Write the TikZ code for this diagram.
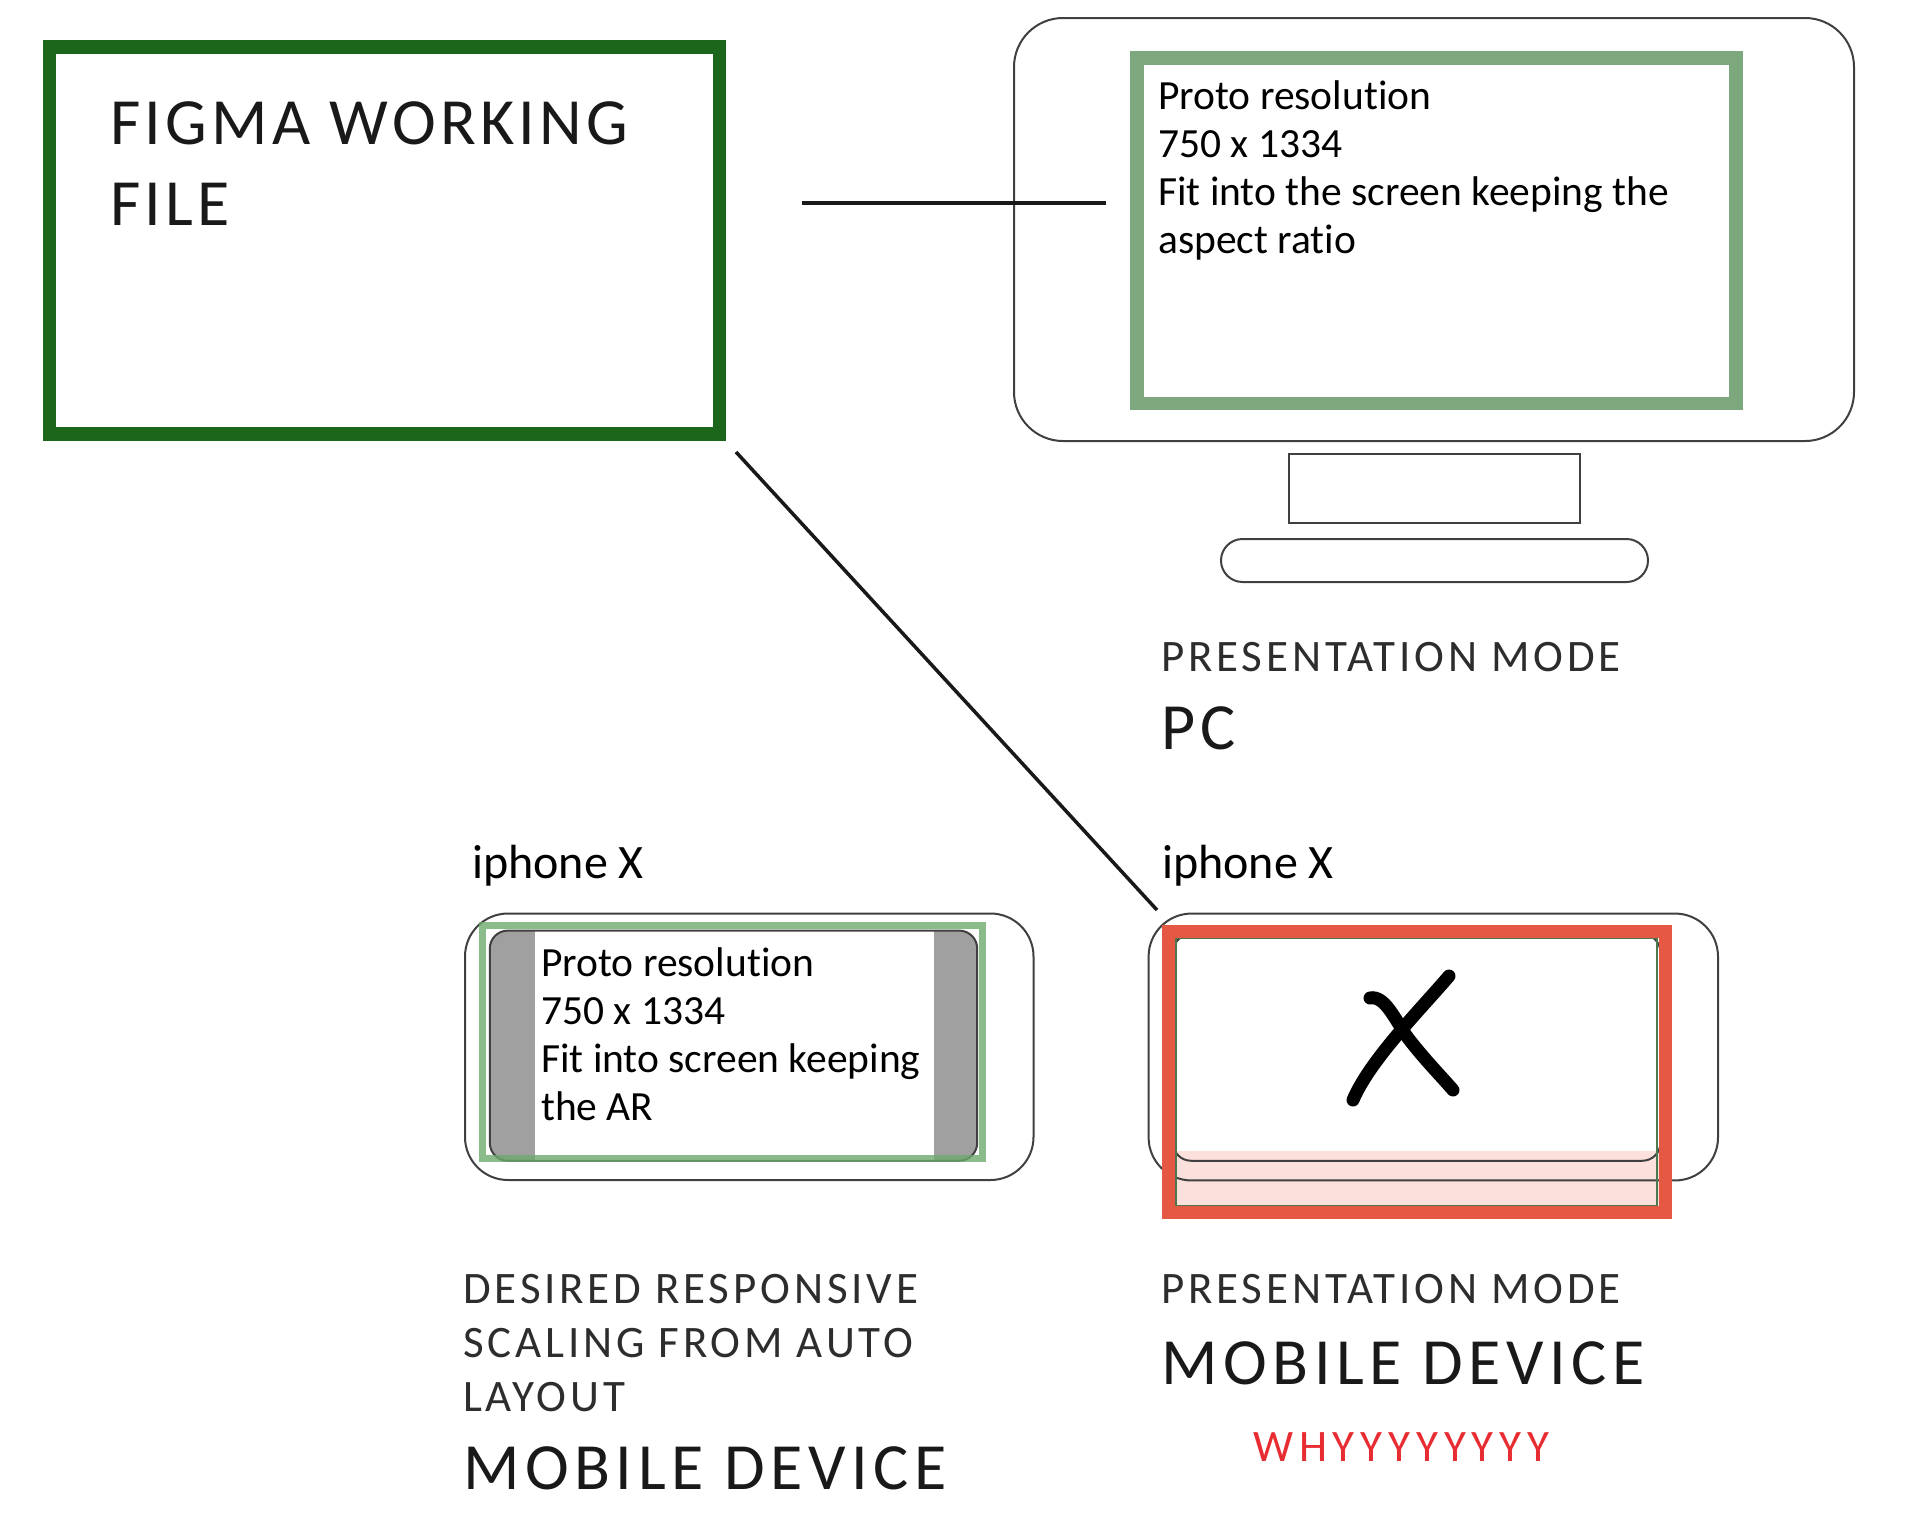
\documentclass[tikz,border=0pt]{standalone}
\usepackage{fontspec}
\setmainfont[Ligatures=NoCommon]{Carlito}
\newfontfamily\capfont[LetterSpace=8.5]{Carlito}
\newfontfamily\bigcapfont[LetterSpace=8.5]{Carlito}
\newfontfamily\figmafont[LetterSpace=6.5]{Carlito}
\newfontfamily\whyfont[LetterSpace=13]{Carlito}
\definecolor{figmagreen}{RGB}{28,102,28}
\definecolor{softgreen}{RGB}{125,168,125}
\definecolor{phonegreen}{RGB}{110,170,110}
\definecolor{redframe}{RGB}{229,88,68}
\definecolor{pinkfill}{RGB}{251,224,220}
\definecolor{barGray}{RGB}{160,160,160}
\definecolor{capgray}{RGB}{45,45,45}
\definecolor{whyred}{RGB}{232,45,50}
\tikzset{
  box/.style={draw, inner sep=0pt, outer sep=0pt},
  outline/.style={draw=black!75, line width=2pt},
  body/.style={anchor=base west, inner sep=0pt, font=\fontsize{41.5}{48}\selectfont},
  phonelbl/.style={anchor=base west, inner sep=0pt, font=\fontsize{48}{56}\selectfont},
  capsmall/.style={anchor=base west, inner sep=0pt, text=capgray, font=\capfont\fontsize{45}{54}\selectfont},
  capbig/.style={anchor=base west, inner sep=0pt, text=black!90, font=\bigcapfont\fontsize{66}{80}\selectfont},
  conn/.style={line width=3.5pt, black!90}
}
\begin{document}
\begin{tikzpicture}[x=1pt,y=-1pt]
\useasboundingbox[fill=white] (0,0) rectangle (1920,1526);

% Figma working file
\node[box, draw=figmagreen, line width=13.5pt, minimum width=670pt, minimum height=387pt] (figma) at (384.5,240.6) {};
\node[capbig, font=\figmafont\fontsize{66}{80}\selectfont] (figmaA) at (110,144.5) {FIGMA WORKING};
\node[capbig, font=\figmafont\fontsize{66}{80}\selectfont] (figmaB) at (110,225) {FILE};

% Monitor
\node[box, outline, rounded corners=49pt, minimum width=840pt, minimum height=423pt] (monitor) at (1434,229.5) {};
\node[box, draw=softgreen, line width=13.5pt, minimum width=599pt, minimum height=345.5pt] (pcscreen) at (1436.5,230.75) {};
\node[box, outline, minimum width=291pt, minimum height=69pt] (stand) at (1434.5,488.5) {};
\node[box, outline, rounded corners=21.5pt, minimum width=427pt, minimum height=43pt] (base) at (1434.5,560.5) {};
\node[body] (pcA) at (1158,109.5) {Proto resolution};
\node[body] (pcB) at (1158,157.5) {750 x 1334};
\node[body] (pcC) at (1158,205.5) {Fit into the screen keeping the};
\node[body] (pcD) at (1158,253.5) {aspect ratio};

\node[capsmall] (pcmode) at (1161,671) {PRESENTATION MODE};
\node[capbig] (pclbl) at (1161,749) {PC};

% Left phone (desired)
\node[phonelbl] (iphL) at (472,878) {iphone X};
\node[box, outline, rounded corners=43pt, minimum width=568.5pt, minimum height=266.5pt] (phoneL) at (749.25,1046.75) {};
\begin{scope}
  \clip[rounded corners=18pt] (489.8,930.6) rectangle (977.2,1160.8);
  \fill[barGray] (489.8,930.6) rectangle (535,1160.8);
  \fill[barGray] (934,930.6) rectangle (977.2,1160.8);
\end{scope}
\node[box, outline, rounded corners=18pt, minimum width=487.4pt, minimum height=230.2pt] (screenL) at (733.5,1045.7) {};
\node[box, draw=phonegreen, draw opacity=0.8, line width=7pt, minimum width=499.5pt, minimum height=232.7pt] (greenL) at (732.25,1042) {};
\node[body] (dA) at (541,976) {Proto resolution};
\node[body] (dB) at (541,1024) {750 x 1334};
\node[body] (dC) at (541,1072) {Fit into screen keeping};
\node[body] (dD) at (541,1120) {the AR};

\node[capsmall] (desA) at (463,1303) {DESIRED RESPONSIVE};
\node[capsmall] (desB) at (463,1357) {SCALING FROM AUTO};
\node[capsmall] (desC) at (463,1411) {LAYOUT};
\node[capbig] (desD) at (463,1489) {MOBILE DEVICE};

% Right phone (presentation)
\node[phonelbl] (iphR) at (1162,878) {iphone X};
\fill[pinkfill] (1174,1151) rectangle (1659,1206);
\node[box, outline, rounded corners=43pt, minimum width=569.4pt, minimum height=266.9pt] (phoneR) at (1433.3,1047) {};
\node[box, outline, rounded corners=18pt, minimum width=487.4pt, minimum height=226.5pt] (screenR) at (1416.7,1047.5) {};
\draw[phonegreen!70!black, line width=1.5pt] (1176,938) rectangle (1657,1206);
\node[box, draw=redframe, line width=13pt, minimum width=497.4pt, minimum height=280.7pt] (redR) at (1416.7,1072) {};
\draw[line width=13pt, line cap=round, black] (1449,976) .. controls (1420,1010) and (1370,1060) .. (1353,1100);
\draw[line width=13pt, line cap=round, black] (1370,998) .. controls (1385,995) and (1395,1020) .. (1408,1038) .. controls (1425,1060) and (1440,1075) .. (1453,1090);

\node[capsmall] (rmode) at (1161,1303) {PRESENTATION MODE};
\node[capbig] (rlbl) at (1161,1384) {MOBILE DEVICE};
\node[capsmall, text=whyred, font=\whyfont\fontsize{45}{52}\selectfont] (why) at (1253,1461) {WHYYYYYYYY};

% connectors
\coordinate (hA) at (802,203);
\coordinate (hB) at (1106,203);
\draw[conn] (hA) -- (hB);
\coordinate (dStart) at (736,452);
\coordinate (dEnd) at (1157,910);
\draw[conn] (dStart) -- (dEnd);
\end{tikzpicture}
\end{document}
